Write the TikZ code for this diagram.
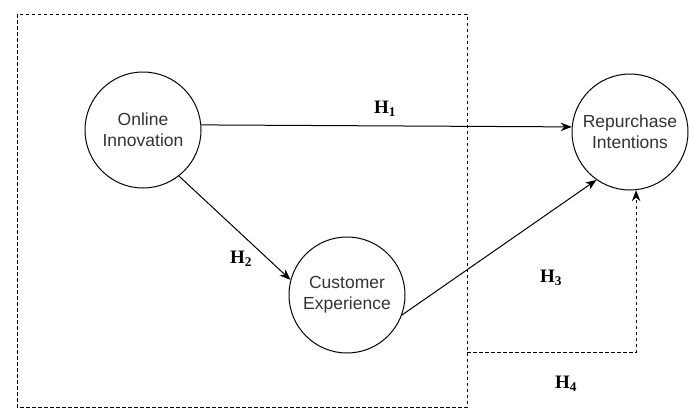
\documentclass[tikz,border=0pt]{standalone}
\usepackage{fontspec}
\setmainfont{Liberation Serif}
\setsansfont{Liberation Sans}
\usetikzlibrary{arrows.meta}
\tikzset{
  construct/.style={circle, draw, line width=1pt, minimum size=116pt, inner sep=0pt,
    align=center, font=\sffamily\fontsize{17.5}{21}\selectfont, text=black!80},
  link/.style={line width=1pt, -{Stealth[length=11pt,width=8.5pt]}},
  hyp/.style={font=\fontsize{19}{21}\selectfont\bfseries},
  dashbox/.style={line width=1pt, dash pattern=on 3.5pt off 2.5pt}
}
\begin{document}
\begin{tikzpicture}[x=1pt,y=-1pt]
  \useasboundingbox (0,0) rectangle (689,410);
  % mediating block
  \draw[dashbox] (17,14) rectangle (467,407);
  \node[construct] (oi) at (143,130) {Online\\Innovation};
  \node[construct] (ce) at (347,295) {Customer\\Experience};
  \node[construct] (ri) at (630,132) {Repurchase\\Intentions};
  \coordinate (h4s) at (467,352);
  % paths
  \draw[link] (oi.5) -- (ri.175);
  \draw[link] (oi.-52) -- (ce.165);
  \draw[link] (ce.-20) -- (ri.-125);
  \draw[dashbox, -{Stealth[length=11pt,width=8.5pt]}] (h4s) -| (ri.-84);
  % labels
  \node[hyp] (h1) at (385,109) {H\textsubscript{1}};
  \node[hyp] (h2) at (241,259) {H\textsubscript{2}};
  \node[hyp] (h3) at (551,278) {H\textsubscript{3}};
  \node[hyp] (h4) at (566,384) {H\textsubscript{4}};
\end{tikzpicture}
\end{document}
